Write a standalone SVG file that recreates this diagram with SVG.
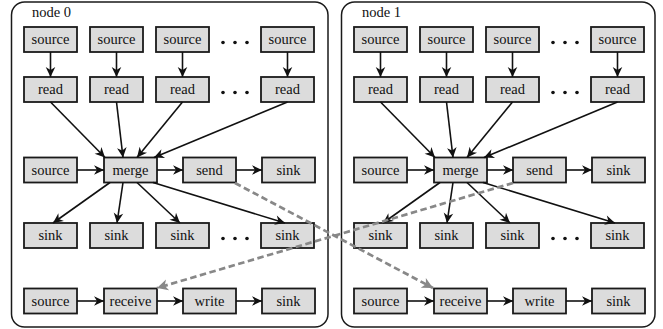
<svg xmlns="http://www.w3.org/2000/svg" width="663" height="329" viewBox="0 0 663 329">
<style>
.frame{fill:#fff;stroke:#1a1a1a;stroke-width:1.5}
.b rect{fill:#dcdcdc;stroke:#1a1a1a;stroke-width:1.8}
.t{font-family:"Liberation Serif","Times New Roman",serif;font-size:14.5px;fill:#111;text-anchor:middle}
.lbl{font-family:"Liberation Serif","Times New Roman",serif;font-size:14.5px;fill:#111;text-anchor:start}
.c{stroke:#111;stroke-width:1.6;fill:none;marker-end:url(#ah)}
.d{stroke:#888;stroke-width:2.7;fill:none;stroke-dasharray:6.5 3.5;marker-end:url(#ahg)}
.dot{fill:#111}
</style>
<defs>
<marker id="ah" markerUnits="userSpaceOnUse" markerWidth="14" markerHeight="14" viewBox="-12 -7 14 14" refX="0" refY="0" orient="auto">
<path d="M0,0 L-10,-4.8 L-7,0 L-10,4.8 Z" fill="#111"/>
</marker>
<marker id="ahg" markerUnits="userSpaceOnUse" markerWidth="16" markerHeight="16" viewBox="-13 -8 16 16" refX="0" refY="0" orient="auto">
<path d="M0,0 L-11,-5.5 L-8,0 L-11,5.5 Z" fill="#888"/>
</marker>
<g id="dots3"><circle cx="0" cy="0" r="1.8"/><circle cx="12" cy="0" r="1.8"/><circle cx="24" cy="0" r="1.8"/></g>
</defs>

<g id="cluster0">
<rect class="frame" x="11.5" y="2" width="316.5" height="325" rx="13"/>
<text class="lbl" x="32" y="17">node 0</text>
</g>
<g id="cluster1">
<rect class="frame" x="341.5" y="2" width="313.5" height="325" rx="13"/>
<text class="lbl" x="362" y="17">node 1</text>
</g>

<g id="node0" class="b">
<g id="n0-source1" transform="translate(24,27)"><rect width="53" height="25"/><text class="t" x="26.5" y="17">source</text></g>
<g id="n0-source2" transform="translate(90,27)"><rect width="53" height="25"/><text class="t" x="26.5" y="17">source</text></g>
<g id="n0-source3" transform="translate(156,27)"><rect width="53" height="25"/><text class="t" x="26.5" y="17">source</text></g>
<g id="n0-source4" transform="translate(261,27)"><rect width="53" height="25"/><text class="t" x="26.5" y="17">source</text></g>
<g id="n0-read1" transform="translate(24,77)"><rect width="53" height="25"/><text class="t" x="26.5" y="17">read</text></g>
<g id="n0-read2" transform="translate(90,77)"><rect width="53" height="25"/><text class="t" x="26.5" y="17">read</text></g>
<g id="n0-read3" transform="translate(156,77)"><rect width="53" height="25"/><text class="t" x="26.5" y="17">read</text></g>
<g id="n0-read4" transform="translate(261,77)"><rect width="53" height="25"/><text class="t" x="26.5" y="17">read</text></g>
<g id="n0-source5" transform="translate(24,157.5)"><rect width="53" height="25"/><text class="t" x="26.5" y="17">source</text></g>
<g id="n0-merge" transform="translate(104,157.5)"><rect width="53" height="25"/><text class="t" x="26.5" y="17">merge</text></g>
<g id="n0-send" transform="translate(183,157.5)"><rect width="53" height="25"/><text class="t" x="26.5" y="17">send</text></g>
<g id="n0-sink0" transform="translate(262,157.5)"><rect width="53" height="25"/><text class="t" x="26.5" y="17">sink</text></g>
<g id="n0-sink1" transform="translate(24,223)"><rect width="53" height="25"/><text class="t" x="26.5" y="17">sink</text></g>
<g id="n0-sink2" transform="translate(90,223)"><rect width="53" height="25"/><text class="t" x="26.5" y="17">sink</text></g>
<g id="n0-sink3" transform="translate(156,223)"><rect width="53" height="25"/><text class="t" x="26.5" y="17">sink</text></g>
<g id="n0-sink4" transform="translate(261,223)"><rect width="53" height="25"/><text class="t" x="26.5" y="17">sink</text></g>
<g id="n0-source6" transform="translate(24,288.5)"><rect width="53" height="25"/><text class="t" x="26.5" y="17">source</text></g>
<g id="n0-receive" transform="translate(104,288.5)"><rect width="53" height="25"/><text class="t" x="26.5" y="17">receive</text></g>
<g id="n0-write" transform="translate(183,288.5)"><rect width="53" height="25"/><text class="t" x="26.5" y="17">write</text></g>
<g id="n0-sink5" transform="translate(262,288.5)"><rect width="53" height="25"/><text class="t" x="26.5" y="17">sink</text></g>
<g class="dot"><use href="#dots3" x="223" y="42.5"/><use href="#dots3" x="223" y="92.5"/><use href="#dots3" x="223" y="238.5"/></g>
</g>

<g id="node1" class="b" transform="translate(330,0)">
<g id="n1-source1" transform="translate(24,27)"><rect width="53" height="25"/><text class="t" x="26.5" y="17">source</text></g>
<g id="n1-source2" transform="translate(90,27)"><rect width="53" height="25"/><text class="t" x="26.5" y="17">source</text></g>
<g id="n1-source3" transform="translate(156,27)"><rect width="53" height="25"/><text class="t" x="26.5" y="17">source</text></g>
<g id="n1-source4" transform="translate(261,27)"><rect width="53" height="25"/><text class="t" x="26.5" y="17">source</text></g>
<g id="n1-read1" transform="translate(24,77)"><rect width="53" height="25"/><text class="t" x="26.5" y="17">read</text></g>
<g id="n1-read2" transform="translate(90,77)"><rect width="53" height="25"/><text class="t" x="26.5" y="17">read</text></g>
<g id="n1-read3" transform="translate(156,77)"><rect width="53" height="25"/><text class="t" x="26.5" y="17">read</text></g>
<g id="n1-read4" transform="translate(261,77)"><rect width="53" height="25"/><text class="t" x="26.5" y="17">read</text></g>
<g id="n1-source5" transform="translate(24,157.5)"><rect width="53" height="25"/><text class="t" x="26.5" y="17">source</text></g>
<g id="n1-merge" transform="translate(104,157.5)"><rect width="53" height="25"/><text class="t" x="26.5" y="17">merge</text></g>
<g id="n1-send" transform="translate(183,157.5)"><rect width="53" height="25"/><text class="t" x="26.5" y="17">send</text></g>
<g id="n1-sink0" transform="translate(262,157.5)"><rect width="53" height="25"/><text class="t" x="26.5" y="17">sink</text></g>
<g id="n1-sink1" transform="translate(24,223)"><rect width="53" height="25"/><text class="t" x="26.5" y="17">sink</text></g>
<g id="n1-sink2" transform="translate(90,223)"><rect width="53" height="25"/><text class="t" x="26.5" y="17">sink</text></g>
<g id="n1-sink3" transform="translate(156,223)"><rect width="53" height="25"/><text class="t" x="26.5" y="17">sink</text></g>
<g id="n1-sink4" transform="translate(261,223)"><rect width="53" height="25"/><text class="t" x="26.5" y="17">sink</text></g>
<g id="n1-source6" transform="translate(24,288.5)"><rect width="53" height="25"/><text class="t" x="26.5" y="17">source</text></g>
<g id="n1-receive" transform="translate(104,288.5)"><rect width="53" height="25"/><text class="t" x="26.5" y="17">receive</text></g>
<g id="n1-write" transform="translate(183,288.5)"><rect width="53" height="25"/><text class="t" x="26.5" y="17">write</text></g>
<g id="n1-sink5" transform="translate(262,288.5)"><rect width="53" height="25"/><text class="t" x="26.5" y="17">sink</text></g>
<g class="dot"><use href="#dots3" x="223" y="42.5"/><use href="#dots3" x="223" y="92.5"/><use href="#dots3" x="223" y="238.5"/></g>
</g>

<g id="connectors">
<g id="edges0">
<path class="c" d="M50.5,52 V77"/><path class="c" d="M116.5,52 V77"/><path class="c" d="M182.5,52 V77"/><path class="c" d="M287.5,52 V77"/>
<path class="c" d="M50.5,102 L105,157.5"/><path class="c" d="M116.5,102 L123,157.5"/><path class="c" d="M182.5,102 L137,157.5"/><path class="c" d="M287.5,102 L154,157.5"/>
<path class="c" d="M77,170 H104"/><path class="c" d="M157,170 H183"/><path class="c" d="M236,170 H262"/>
<path class="c" d="M110,182.5 L53,223"/><path class="c" d="M123,182.5 L117,223"/><path class="c" d="M137,182.5 L180,223"/><path class="c" d="M153,182.5 L285,223"/>
<path class="c" d="M77,301 H104"/><path class="c" d="M157,301 H183"/><path class="c" d="M236,301 H262"/>
</g>
<g id="edges1" transform="translate(330,0)">
<path class="c" d="M50.5,52 V77"/><path class="c" d="M116.5,52 V77"/><path class="c" d="M182.5,52 V77"/><path class="c" d="M287.5,52 V77"/>
<path class="c" d="M50.5,102 L105,157.5"/><path class="c" d="M116.5,102 L123,157.5"/><path class="c" d="M182.5,102 L137,157.5"/><path class="c" d="M287.5,102 L154,157.5"/>
<path class="c" d="M77,170 H104"/><path class="c" d="M157,170 H183"/><path class="c" d="M236,170 H262"/>
<path class="c" d="M110,182.5 L53,223"/><path class="c" d="M123,182.5 L117,223"/><path class="c" d="M137,182.5 L180,223"/><path class="c" d="M153,182.5 L285,223"/>
<path class="c" d="M77,301 H104"/><path class="c" d="M157,301 H183"/><path class="c" d="M236,301 H262"/>
</g>
<g id="edges-net">
<path class="d" d="M235,183 L433,288"/>
<path class="d" d="M513,183 L157,288"/>
</g>
</g>
</svg>
